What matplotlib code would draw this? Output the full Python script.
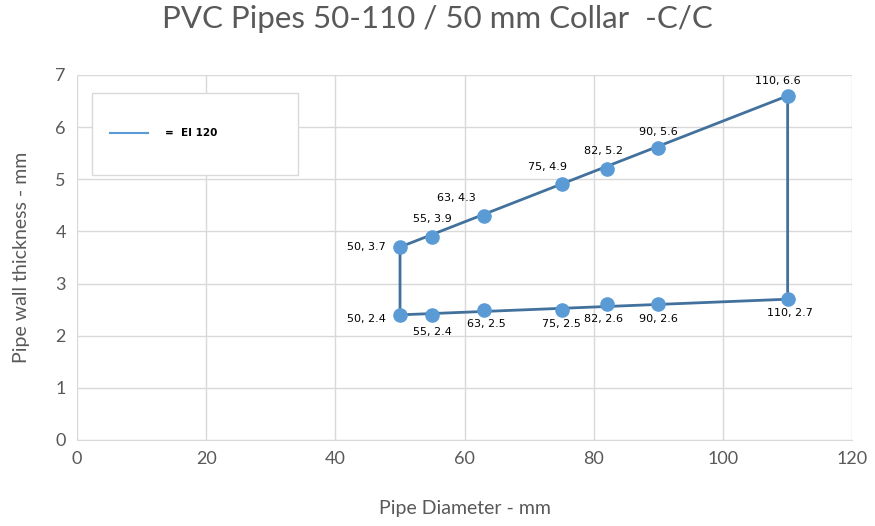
import matplotlib
matplotlib.use('Agg')
import matplotlib.pyplot as plt
from matplotlib.lines import Line2D
from matplotlib.patches import Rectangle

# --- Data ---
upper_d = [50, 55, 63, 75, 82, 90, 110]
upper_t = [3.7, 3.9, 4.3, 4.9, 5.2, 5.6, 6.6]
lower_d = [50, 55, 63, 75, 82, 90, 110]
lower_t = [2.4, 2.4, 2.5, 2.5, 2.6, 2.6, 2.7]

# outline EI 120
outline_d = [50, 50, 110, 110, 50]
outline_t = [2.4, 3.7, 6.6, 2.7, 2.4]

GRID = '#D9D9D9'
TXT = '#595959'
LINE = '#41719C'
MARK = '#5B9BD5'

plt.rcParams['font.family'] = ['Lato', 'DejaVu Sans']

fig = plt.figure(figsize=(8.75, 5.26), dpi=100)
ax = fig.add_axes([0.088, 0.1635, 0.886, 0.694])

ax.plot(outline_d, outline_t, color=LINE, lw=2.0, zorder=3)
ax.scatter(upper_d, upper_t, s=90, color=MARK, zorder=4)
ax.scatter(lower_d, lower_t, s=90, color=MARK, zorder=4)

# label offsets (points)
up_off = [(-10, 0, 'right', 'center'), (0, 9, 'center', 'bottom'), (-20, 9, 'center', 'bottom'),
          (-10, 9, 'center', 'bottom'), (-2, 9, 'center', 'bottom'), (0, 8, 'center', 'bottom'),
          (-7, 7, 'center', 'bottom')]
lo_off = [(-10, -3, 'right', 'center'), (0, -9, 'center', 'top'), (2, -7, 'center', 'top'),
          (0, -7, 'center', 'top'), (-2, -7, 'center', 'top'), (0, -7, 'center', 'top'),
          (2, -6, 'center', 'top')]
for xs, ys, offs in [(upper_d, upper_t, up_off), (lower_d, lower_t, lo_off)]:
    for x, y, (dx, dy, ha, va) in zip(xs, ys, offs):
        ax.annotate(f'{x}, {y}', (x, y), xytext=(dx, dy), textcoords='offset points',
                    ha=ha, va=va, fontsize=8, color='black', family='DejaVu Sans')

ax.set_xlim(0, 120)
ax.set_ylim(0, 7)
ax.set_xticks(range(0, 121, 20))
ax.set_yticks(range(0, 8))
ax.grid(True, color=GRID, lw=1)
ax.set_axisbelow(True)
for s in ['top', 'right', 'left']:
    ax.spines[s].set_visible(False)
ax.spines['bottom'].set_color(GRID)
ax.tick_params(length=0, labelsize=13, colors=TXT, pad=8)

ax.set_xlabel('Pipe Diameter - mm', fontsize=14, color=TXT, labelpad=24)
ax.set_ylabel('Pipe wall thickness - mm', fontsize=14, color=TXT, labelpad=18)
fig.suptitle('PVC Pipes 50-110 / 50 mm Collar  -C/C', fontsize=22.5, color=TXT, y=0.99)

# legend box
ax.add_patch(Rectangle((0.019, 0.726), 0.266, 0.225, transform=ax.transAxes,
                       facecolor='white', edgecolor=GRID, lw=1, zorder=5))
handle = Line2D([], [], color=MARK, lw=1.5)
leg = ax.legend([handle], ['=  EI 120'], loc='center left', bbox_to_anchor=(0.043, 0.84),
                frameon=False, borderpad=0, borderaxespad=0,
                handlelength=3.6, handletextpad=1.6,
                prop={'size': 7.5, 'weight': 'bold', 'family': 'DejaVu Sans'})
leg.set_zorder(6)

fig.savefig('out.png', dpi=100)
